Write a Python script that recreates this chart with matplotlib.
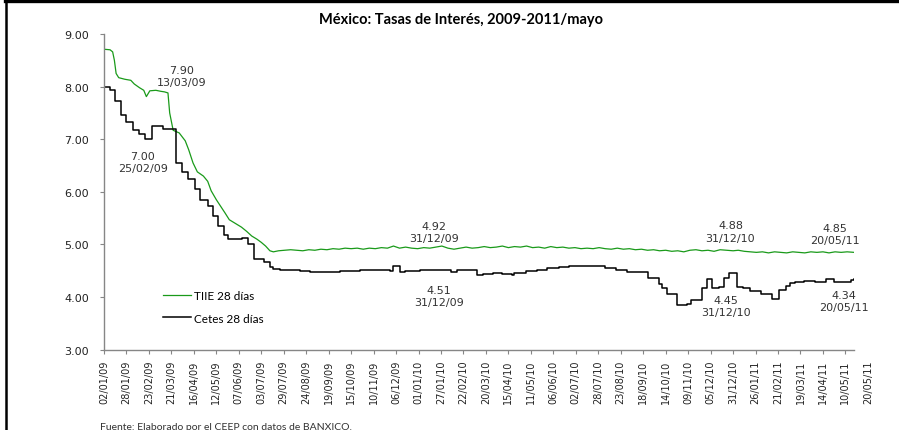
import numpy as np
import matplotlib
matplotlib.use("Agg")
import matplotlib.pyplot as plt
import matplotlib.dates as mdates
from matplotlib.lines import Line2D

# Cetes 28 dias (cambios de nivel, subasta semanal)
cetes_fechas = [
    "2009-01-02", "2009-01-09", "2009-01-15", "2009-01-22", "2009-01-28", "2009-02-05",
    "2009-02-12", "2009-02-19", "2009-02-26", "2009-03-11", "2009-03-26", "2009-04-02",
    "2009-04-09", "2009-04-17", "2009-04-23", "2009-05-02", "2009-05-08", "2009-05-14",
    "2009-05-21", "2009-05-26", "2009-06-11", "2009-06-18", "2009-06-25", "2009-07-06",
    "2009-07-13", "2009-07-17", "2009-07-25", "2009-08-05", "2009-08-17", "2009-08-28",
    "2009-09-09", "2009-09-21", "2009-10-02", "2009-10-14", "2009-10-25", "2009-11-12",
    "2009-11-29", "2009-12-03", "2009-12-10", "2009-12-16", "2010-01-03", "2010-01-26",
    "2010-02-08", "2010-02-15", "2010-03-10", "2010-03-17", "2010-03-28", "2010-04-08",
    "2010-04-19", "2010-04-21", "2010-05-05", "2010-05-18", "2010-05-30", "2010-06-12",
    "2010-06-24", "2010-08-05", "2010-08-17", "2010-08-30", "2010-09-11", "2010-09-23",
    "2010-10-06", "2010-10-10", "2010-10-16", "2010-10-27", "2010-11-08", "2010-11-12",
    "2010-11-25", "2010-12-01", "2010-12-07", "2010-12-15", "2010-12-21", "2010-12-26",
    "2011-01-05", "2011-01-12", "2011-01-20", "2011-02-01", "2011-02-14", "2011-02-22",
    "2011-03-02", "2011-03-07", "2011-03-13", "2011-03-23", "2011-04-05", "2011-04-17",
    "2011-04-27", "2011-05-16", "2011-05-20",
]
cetes_valores = [
    8.00, 7.94, 7.72, 7.46, 7.33, 7.18,
    7.09, 7.00, 7.25, 7.20, 6.54, 6.38,
    6.25, 6.06, 5.85, 5.74, 5.55, 5.36,
    5.18, 5.10, 5.13, 5.00, 4.73, 4.66,
    4.58, 4.54, 4.52, 4.51, 4.49, 4.48,
    4.47, 4.47, 4.49, 4.50, 4.51, 4.51,
    4.50, 4.59, 4.48, 4.50, 4.51, 4.51,
    4.48, 4.51, 4.42, 4.44, 4.45, 4.43,
    4.42, 4.46, 4.49, 4.52, 4.55, 4.57,
    4.59, 4.55, 4.52, 4.48, 4.47, 4.36,
    4.24, 4.18, 4.06, 3.85, 3.87, 3.94,
    4.17, 4.34, 4.17, 4.19, 4.37, 4.45,
    4.19, 4.18, 4.11, 4.05, 3.96, 4.13,
    4.21, 4.26, 4.28, 4.31, 4.28, 4.34,
    4.28, 4.32, 4.34,
]

# TIIE 28 dias
tiie_fechas = [
    "2009-01-02", "2009-01-09", "2009-01-12", "2009-01-14", "2009-01-16", "2009-01-19",
    "2009-01-26", "2009-02-02", "2009-02-06", "2009-02-12", "2009-02-17", "2009-02-20",
    "2009-02-24", "2009-03-03", "2009-03-09", "2009-03-13", "2009-03-17", "2009-03-19",
    "2009-03-23", "2009-03-30", "2009-04-06", "2009-04-10", "2009-04-15", "2009-04-20",
    "2009-04-27", "2009-05-02", "2009-05-06", "2009-05-12", "2009-05-16", "2009-05-22",
    "2009-05-27", "2009-06-03", "2009-06-10", "2009-06-16", "2009-06-22", "2009-06-28",
    "2009-07-03", "2009-07-08", "2009-07-13", "2009-07-17", "2009-07-23", "2009-07-30",
    "2009-08-06", "2009-08-13", "2009-08-20", "2009-08-27", "2009-09-03", "2009-09-10",
    "2009-09-17", "2009-09-24", "2009-10-01", "2009-10-08", "2009-10-15", "2009-10-22",
    "2009-10-29", "2009-11-05", "2009-11-12", "2009-11-19", "2009-11-26", "2009-12-03",
    "2009-12-10", "2009-12-17", "2009-12-24", "2009-12-31", "2010-01-07", "2010-01-14",
    "2010-01-21", "2010-01-28", "2010-02-04", "2010-02-11", "2010-02-18", "2010-02-25",
    "2010-03-04", "2010-03-11", "2010-03-18", "2010-03-25", "2010-04-01", "2010-04-08",
    "2010-04-15", "2010-04-22", "2010-04-29", "2010-05-06", "2010-05-13", "2010-05-20",
    "2010-05-27", "2010-06-03", "2010-06-10", "2010-06-17", "2010-06-24", "2010-07-01",
    "2010-07-08", "2010-07-15", "2010-07-22", "2010-07-29", "2010-08-05", "2010-08-12",
    "2010-08-19", "2010-08-26", "2010-09-02", "2010-09-09", "2010-09-16", "2010-09-23",
    "2010-09-30", "2010-10-07", "2010-10-14", "2010-10-21", "2010-10-28", "2010-11-04",
    "2010-11-11", "2010-11-18", "2010-11-25", "2010-12-02", "2010-12-09", "2010-12-16",
    "2010-12-23", "2010-12-31", "2011-01-06", "2011-01-13", "2011-01-20", "2011-01-27",
    "2011-02-03", "2011-02-10", "2011-02-17", "2011-02-24", "2011-03-03", "2011-03-10",
    "2011-03-17", "2011-03-24", "2011-03-31", "2011-04-07", "2011-04-14", "2011-04-21",
    "2011-04-28", "2011-05-05", "2011-05-12", "2011-05-20",
]
tiie_valores = [
    8.71, 8.70, 8.66, 8.50, 8.25, 8.17,
    8.14, 8.12, 8.05, 7.98, 7.93, 7.81,
    7.92, 7.93, 7.91, 7.90, 7.88, 7.50,
    7.17, 7.12, 6.97, 6.80, 6.55, 6.38,
    6.30, 6.20, 6.02, 5.85, 5.75, 5.60,
    5.47, 5.40, 5.33, 5.25, 5.16, 5.10,
    5.04, 4.97, 4.88, 4.86, 4.88, 4.89,
    4.90, 4.89, 4.88, 4.90, 4.89, 4.91,
    4.90, 4.92, 4.91, 4.93, 4.92, 4.93,
    4.91, 4.93, 4.92, 4.94, 4.93, 4.97,
    4.93, 4.95, 4.93, 4.92, 4.94, 4.93,
    4.95, 4.97, 4.93, 4.91, 4.93, 4.95,
    4.93, 4.94, 4.96, 4.94, 4.95, 4.97,
    4.94, 4.96, 4.95, 4.97, 4.94, 4.95,
    4.93, 4.96, 4.94, 4.95, 4.93, 4.94,
    4.92, 4.93, 4.92, 4.94, 4.92, 4.91,
    4.93, 4.91, 4.92, 4.90, 4.91, 4.89,
    4.90, 4.88, 4.89, 4.87, 4.88, 4.86,
    4.89, 4.90, 4.88, 4.89, 4.87, 4.90,
    4.89, 4.88, 4.89, 4.87, 4.86, 4.85,
    4.86, 4.84, 4.86, 4.85, 4.84, 4.86,
    4.85, 4.84, 4.86, 4.85, 4.86, 4.84,
    4.86, 4.85, 4.86, 4.85,
]

# etiquetas de valores (texto, fecha, nivel)
etiquetas = [
    ("7.90\n13/03/09", "2009-04-02", 8.20),
    ("7.00\n25/02/09", "2009-02-16", 6.57),
    ("4.92\n31/12/09", "2010-01-19", 5.24),
    ("4.51\n31/12/09", "2010-01-25", 4.02),
    ("4.88\n31/12/10", "2010-12-28", 5.25),
    ("4.45\n31/12/10", "2010-12-23", 3.83),
    ("4.85\n20/05/11", "2011-04-28", 5.20),
    ("4.34\n20/05/11", "2011-05-08", 3.93),
]

verde = "#1a9a1a"
gris = "#868686"

fig = plt.figure(figsize=(8.99, 4.31), dpi=100)
ax = fig.add_axes([0.1157, 0.1863, 0.8343, 0.7325])

x_tiie = np.array(tiie_fechas, dtype="datetime64[D]")
x_cetes = np.array(cetes_fechas, dtype="datetime64[D]")
ax.plot(x_tiie, tiie_valores, color=verde, lw=0.9, label="TIIE 28 días")
ax.plot(x_cetes, cetes_valores, color="black", lw=1.1, drawstyle="steps-post",
        label="Cetes 28 días")

inicio = np.datetime64("2009-01-02")
fin = np.datetime64("2011-05-20")
ax.set_xlim(inicio, fin)
ax.set_ylim(3, 9)

ticks = np.arange(inicio, fin, np.timedelta64(26, "D"))
ax.set_xticks(ticks)
ax.xaxis.set_major_formatter(mdates.DateFormatter("%d/%m/%y"))
ax.set_yticks(np.arange(3, 9.01, 1))
ax.yaxis.set_major_formatter(matplotlib.ticker.FormatStrFormatter("%.2f"))
ax.tick_params(axis="x", rotation=90, labelsize=7, length=3, width=0.8,
               color=gris, pad=4)
ax.tick_params(axis="y", labelsize=8, length=3, width=0.8, color=gris, pad=8)
for lbl in ax.get_xticklabels() + ax.get_yticklabels():
    lbl.set_color("#222222")

for s in ["top", "right"]:
    ax.spines[s].set_visible(False)
for s in ["left", "bottom"]:
    ax.spines[s].set_color(gris)
    ax.spines[s].set_linewidth(1.0)

# ultima etiqueta del eje (fuera del rango)
ax.annotate("20/05/11", xy=(fin + np.timedelta64(16, "D"), 0),
            xycoords=("data", "axes fraction"), xytext=(0, -7),
            textcoords="offset points", rotation=90, ha="center", va="top",
            fontsize=7, color="#222222", annotation_clip=False)

for texto, fecha, nivel in etiquetas:
    ax.text(np.datetime64(fecha), nivel, texto, ha="center", va="center",
            fontsize=8, color="#333333", linespacing=1.3)

ax.legend(loc="upper left", bbox_to_anchor=(0.0787, 0.19), frameon=False,
          borderpad=0, borderaxespad=0, handlelength=2.4, handletextpad=0.2,
          labelspacing=1.0, prop={"family": "Lato", "size": 8.5})

fig.text(0.513, 0.953, "México: Tasas de Interés, 2009-2011/mayo", ha="center",
         va="center", fontsize=10.5, fontweight="bold", family="Lato")
fig.text(0.111, 0.018, "Fuente: Elaborado por el CEEP con datos de BANXICO.",
         ha="left", va="top", fontsize=7.5, family="Lato", color="#333333")

# marco
fig.add_artist(Line2D([5 / 899, 1], [1 - 1.5 / 431, 1 - 1.5 / 431],
                      transform=fig.transFigure, color="black", lw=2.4))
fig.add_artist(Line2D([6 / 899, 6 / 899], [0, 1], transform=fig.transFigure,
                      color="black", lw=1.8))

fig.savefig("out.png", dpi=100)
